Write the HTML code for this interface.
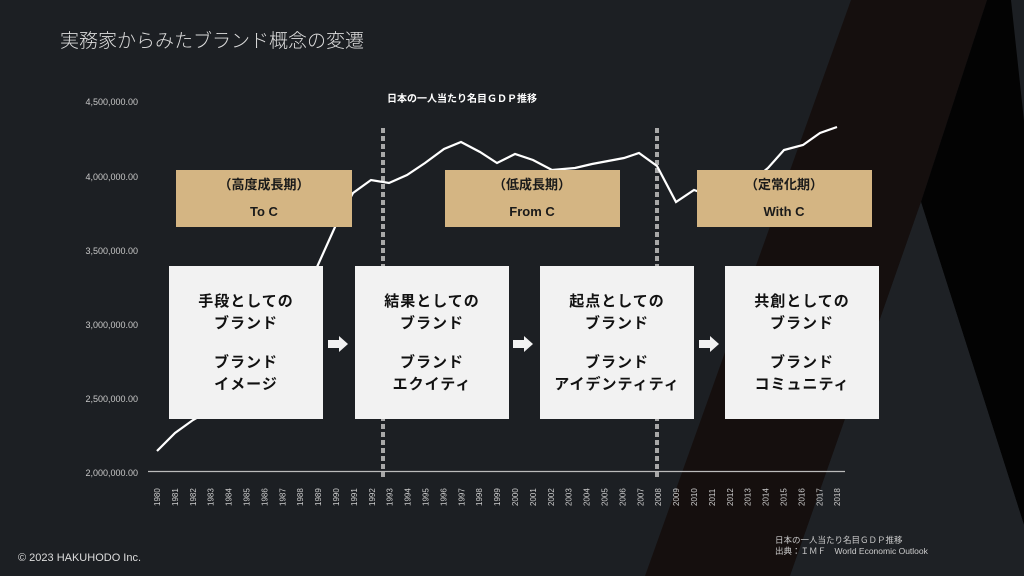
<!DOCTYPE html>
<html><head><meta charset="utf-8"><style>
body{margin:0;width:1024px;height:576px;overflow:hidden;background:#1c1f23;font-family:"Liberation Sans","Noto Sans CJK JP",sans-serif;}
svg{position:absolute;left:0;top:0}
</style></head><body>
<svg width="1024" height="576" viewBox="0 0 1024 576" xmlns="http://www.w3.org/2000/svg" font-family="Liberation Sans, Noto Sans CJK JP, sans-serif">
<rect width="1024" height="576" fill="#1c1f23"/>
<polygon points="851,0 987,0 921,202 790,576 645,576" fill="#150f0e"/>
<polygon points="987,0 1011,0 1024,121 1024,525 921,202" fill="#030303"/>
<polygon points="921,202 1024,525 1024,576 790,576" fill="#1e2125"/>
<text x="60" y="47" font-size="19" fill="#dcdcdc" font-weight="300">実務家からみたブランド概念の変遷</text>
<text x="462" y="102" font-size="10" fill="#fff" font-weight="bold" text-anchor="middle">日本の一人当たり名目ＧＤＰ推移</text>
<g font-size="9" fill="#c8c8c8" text-anchor="end">
<text x="138" y="105">4,500,000.00</text>
<text x="138" y="180">4,000,000.00</text>
<text x="138" y="254">3,500,000.00</text>
<text x="138" y="328">3,000,000.00</text>
<text x="138" y="402">2,500,000.00</text>
<text x="138" y="476">2,000,000.00</text>
</g>
<line x1="148" y1="471.5" x2="845" y2="471.5" stroke="#bbb" stroke-width="1.2"/>
<g font-size="8" fill="#ccc" id="yrs"></g>
<line x1="383" y1="128" x2="383" y2="478" stroke="#a8a8a8" stroke-width="4" stroke-dasharray="5,3"/>
<line x1="657" y1="128" x2="657" y2="478" stroke="#a8a8a8" stroke-width="4" stroke-dasharray="5,3"/>
<polyline fill="none" stroke="#fff" stroke-width="2.2" points="157,451 175,433 193,420 211,410 229,397 247,383 265,365 282,340 300,305 317,267 335,227 353,193 371,180 389,183 407,175 425,163 444,149 461,142 480,152 497,163 515,154 533,160 552,170 575,168 592,164 608,161 624,158 639,153 657,166 676,202 694,190 711,196 729,197 747,185 768,168 784,150 803,145 820,133 837,127"/>
<g fill="#d4b583">
<rect x="176" y="170" width="176" height="57"/>
<rect x="445" y="170" width="175" height="57"/>
<rect x="697" y="170" width="175" height="57"/>
</g>
<g font-size="13" font-weight="bold" fill="#1a1a1a" text-anchor="middle">
<text x="264" y="189">（高度成長期）</text><text x="264" y="216">To C</text>
<text x="532" y="189">（低成長期）</text><text x="532" y="216">From C</text>
<text x="784" y="189">（定常化期）</text><text x="784" y="216">With C</text>
</g>
<g fill="#f2f2f2">
<rect x="169" y="266" width="154" height="153"/>
<rect x="355" y="266" width="154" height="153"/>
<rect x="540" y="266" width="154" height="153"/>
<rect x="725" y="266" width="154" height="153"/>
</g>
<g font-size="15" font-weight="bold" fill="#111" text-anchor="middle" letter-spacing="1">
<text x="246" y="306">手段としての</text><text x="246" y="328">ブランド</text><text x="246" y="367">ブランド</text><text x="246" y="389">イメージ</text>
<text x="432" y="306">結果としての</text><text x="432" y="328">ブランド</text><text x="432" y="367">ブランド</text><text x="432" y="389">エクイティ</text>
<text x="617" y="306">起点としての</text><text x="617" y="328">ブランド</text><text x="617" y="367">ブランド</text><text x="617" y="389">アイデンティティ</text>
<text x="802" y="306">共創としての</text><text x="802" y="328">ブランド</text><text x="802" y="367">ブランド</text><text x="802" y="389">コミュニティ</text>
</g>
<g fill="#f2f2f2">
<polygon points="328,340 339,340 339,336 348,344 339,352 339,348 328,348"/>
<polygon points="513,340 524,340 524,336 533,344 524,352 524,348 513,348"/>
<polygon points="699,340 710,340 710,336 719,344 710,352 710,348 699,348"/>
</g>
<text x="18" y="561" font-size="11" fill="#ddd">© 2023 HAKUHODO Inc.</text>
<text x="775" y="543" font-size="8.5" fill="#ccc">日本の一人当たり名目ＧＤＰ推移</text>
<text x="775" y="554" font-size="8.5" fill="#ccc">出典：ＩＭＦ　World Economic Outlook</text>
</svg>
<script>
var g=document.getElementById('yrs');var s='';
for(var i=0;i<39;i++){var x=157+i*17.9+3;s+='<text transform="translate('+x.toFixed(1)+',506) rotate(-90)">'+(1980+i)+'</text>';}
g.innerHTML=s;
</script>
</body></html>
